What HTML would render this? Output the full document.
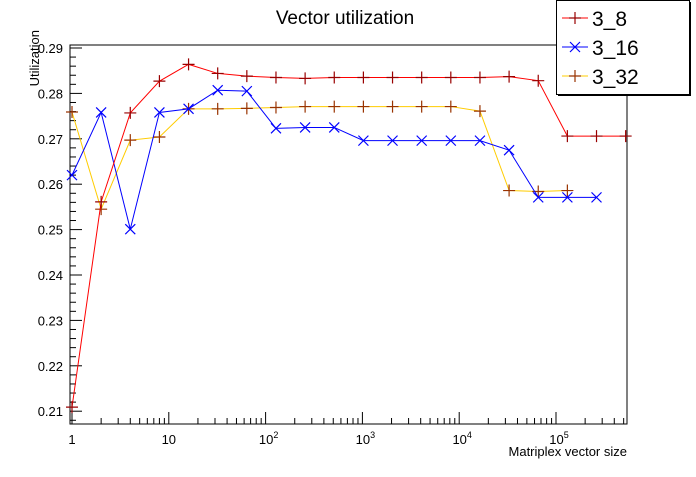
<!DOCTYPE html>
<html><head><meta charset="utf-8"><style>
body{margin:0;background:#fff;width:696px;height:472px;overflow:hidden;font-family:"Liberation Sans",sans-serif}
</style></head><body>
<svg id="c" width="696" height="472" xmlns="http://www.w3.org/2000/svg" font-family="Liberation Sans, sans-serif"></svg>
<script>
const sizes=[1,2,4,8,16,32,64,128,256,512,1024,2048,4096,8192,16384,32768,65536,131072,262144,524288];
const s38=[0.2109,0.2561,0.2757,0.2827,0.2864,0.2844,0.2838,0.2835,0.2833,0.2835,0.2835,0.2835,0.2835,0.2835,0.2835,0.2837,0.2828,0.2706,0.2706,0.2706];
const s316=[0.2620,0.2758,0.2501,0.2758,0.2766,0.2807,0.2805,0.2723,0.2725,0.2725,0.2696,0.2696,0.2696,0.2696,0.2696,0.2675,0.2571,0.2571,0.2571];
const s332=[0.2759,0.2545,0.2697,0.2704,0.2766,0.2766,0.2767,0.2769,0.2771,0.2771,0.2771,0.2771,0.2771,0.2771,0.2761,0.2586,0.2584,0.2586];
const yTicks=[0.21,0.22,0.23,0.24,0.25,0.26,0.27,0.28,0.29];
const yTickLabels=["0.21","0.22","0.23","0.24","0.25","0.26","0.27","0.28","0.29"];
const xDecades=[0,1,2,3,4,5];
const seriesNames=["3_8","3_16","3_32"];

const svg=document.getElementById('c');
const NS="http://www.w3.org/2000/svg";
const L=70,R=627,T=45,B=424;
const X=v=>72+Math.log10(v)*96.8;
const Y=v=>48+(0.29-v)*4540;
function mk(tag,attrs,parent){const e=document.createElementNS(NS,tag);for(const k in attrs)e.setAttribute(k,attrs[k]);(parent||svg).appendChild(e);return e;}

const frame=mk('rect',{x:L,y:T,width:R-L,height:B-T,fill:'none',stroke:'#000','stroke-width':1});



const title=mk('text',{x:345,y:24,'text-anchor':'middle','font-size':19});
title.textContent='Vector utilization';



// y axis ticks
const yAxis=mk('g',{});


for(let v=0.208;v<=0.2905;v+=0.002){
  const y=Y(v);if(y<T||y>B)continue;
  const major=Math.abs(Math.round(v*100)-v*100)<1e-6;
  const half=!major&&Math.abs(Math.round(v*200)-v*200)<1e-6;
  mk('line',{x1:L,x2:L+(major?12:6),y1:y,y2:y,stroke:'#000'},yAxis);
}
yTicks.forEach((v,i)=>{
  const t=mk('text',{x:63,y:Y(v)+5,'text-anchor':'end','font-size':13},yAxis);
  t.textContent=yTickLabels[i];
  
  
});
const yt=mk('text',{x:0,y:0,'text-anchor':'end','font-size':13,transform:'translate(39,30) rotate(-90)'});
yt.textContent='Utilization';



// x axis ticks
const xAxis=mk('g',{});


for(let d=0;d<=5;d++){for(let m=1;m<=9;m++){const x=X(m*Math.pow(10,d));if(x>R)continue;
  mk('line',{x1:x,x2:x,y1:B,y2:B-(m==1?12:6),stroke:'#000'},xAxis);}}
xDecades.forEach(d=>{
  const t=mk('text',{x:X(Math.pow(10,d)),y:444,'text-anchor':'middle','font-size':13},xAxis);
  if(d<2)t.textContent=String(Math.pow(10,d));
  else{t.textContent='10';const s=mk('tspan',{dy:-6,'font-size':9},t);s.textContent=String(d);t.setAttribute('x',X(Math.pow(10,d))+3);}
  
  
});
const xt=mk('text',{x:627,y:456,'text-anchor':'end','font-size':13});
xt.textContent='Matriplex vector size';



function plus(g,x,y,c){mk('path',{d:`M${x-6},${y}H${x+6}M${x},${y-6}V${y+6}`,stroke:c,'stroke-width':1.2},g);}
function cross(g,x,y,c){mk('path',{d:`M${x-5},${y-5}L${x+5},${y+5}M${x-5},${y+5}L${x+5},${y-5}`,stroke:c,'stroke-width':1.2},g);}
function series(vals,line,mcol,mfn,name){
  const g=mk('g',{});
  
  
  mk('polyline',{points:vals.map((v,i)=>X(sizes[i])+','+Y(v)).join(' '),fill:'none',stroke:line,'stroke-width':1},g);
  vals.forEach((v,i)=>mfn(g,X(sizes[i]),Y(v),mcol));
}
series(s332,'#ffcc00','#993300',plus,'series-3-32');
series(s316,'#0000ff','#0000ff',cross,'series-3-16');
series(s38,'#ff0000','#990000',plus,'series-3-8');

// legend
const lg=mk('g',{});


mk('rect',{x:556.5,y:0.5,width:133,height:94,fill:'#fff',stroke:'#000'},lg);
mk('line',{x1:690,x2:690,y1:2,y2:96,stroke:'#000','stroke-width':2},lg);
mk('line',{x1:558,x2:690,y1:95,y2:95,stroke:'#000','stroke-width':2},lg);
const ls=[['#ff0000','#990000',plus],['#0000ff','#0000ff',cross],['#ffcc00','#993300',plus]];
seriesNames.forEach((n,i)=>{
  const y=18+i*29;
  const e=mk('g',{},lg);
  
  
  mk('line',{x1:562,x2:588,y1:y,y2:y,stroke:ls[i][0]},e);
  ls[i][2](e,575,y,ls[i][1]);
  const t=mk('text',{x:592,y:y+8,'font-size':21},e);t.textContent=n;
});
</script>
</body></html>
